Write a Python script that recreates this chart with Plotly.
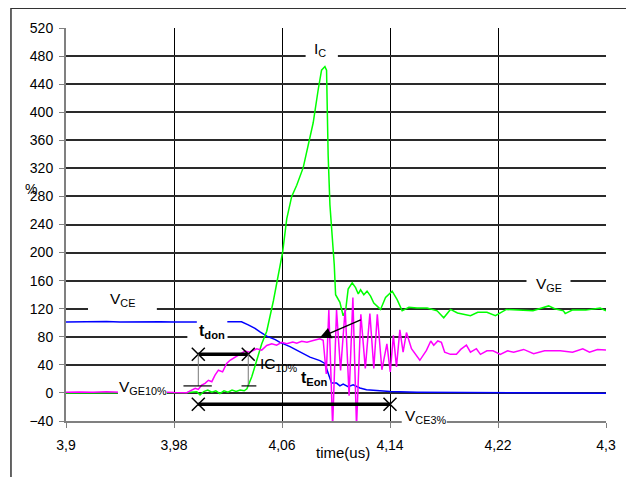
import plotly.graph_objects as go

# ---------------- data ----------------
t_vce = [3.900, 3.910, 3.920, 3.930, 3.940, 3.950, 3.960, 3.970, 3.980, 3.990, 4.000, 4.010,
         4.020, 4.030, 4.035, 4.040, 4.0437, 4.0487, 4.055, 4.0585, 4.0659, 4.0733, 4.0807,
         4.0881, 4.0918, 4.0942, 4.0967, 4.1004, 4.1029, 4.1053, 4.109, 4.1127, 4.1177,
         4.1226, 4.130, 4.140, 4.160, 4.190, 4.220, 4.250, 4.280, 4.300]
vce = [101, 101.5, 101, 101.8, 101, 101.5, 101.2, 101.6, 101, 101.5, 101, 101.4,
       101, 101.5, 97, 92, 87, 81, 76, 72, 66, 58, 51,
       46, 42, 28, 14, 14, 10, 12.5, 9, 11.5, 7,
       4.5, 3.5, 2, 1, 0.5, 0, -0.5, 0, -0.3]

t_ic = [3.900, 3.930, 3.960, 3.990, 3.9969, 3.9993, 4.002, 4.005, 4.008, 4.011, 4.014, 4.017,
        4.020, 4.023, 4.026, 4.029, 4.032, 4.034, 4.0376, 4.0413, 4.045, 4.0487, 4.0536,
        4.0605, 4.0635, 4.0672, 4.0709, 4.0757, 4.0794, 4.0831, 4.0868, 4.0893, 4.0918,
        4.0930, 4.0935, 4.0942, 4.0955, 4.0975, 4.0987, 4.0997, 4.1029, 4.1053, 4.1071,
        4.1090, 4.1120, 4.1145, 4.1165, 4.1182, 4.1206, 4.1230, 4.1256, 4.1280, 4.1300,
        4.1330, 4.1367, 4.1416, 4.1453, 4.1490, 4.1540, 4.1600, 4.1675, 4.1749, 4.1798,
        4.1848, 4.1900, 4.1941, 4.1996, 4.2050, 4.2118, 4.2181, 4.2262, 4.2350, 4.2459,
        4.2575, 4.2620, 4.2685, 4.2698, 4.2750, 4.2850, 4.2957, 4.3000]
ic = [0, 0.5, 0, 0.5, 1.8, -3, 2, 4, 1, 3, -1, 3,
      1, 4, 2, 4, 3, 6, 23, 46, 70, 88, 131,
      201, 248, 280, 296, 321, 352, 385, 432, 460, 465,
      460, 408, 338, 268, 216, 183, 140, 129, 110, 117,
      148, 157, 150, 141, 147, 140, 145, 138, 128, 124,
      119, 136, 145, 133, 117, 122, 121, 121, 117, 107,
      119, 114, 112, 110, 115, 115, 110, 119, 118, 117,
      124, 120, 117, 113, 118, 118, 121, 117]

t_vge = [3.900, 3.910, 3.920, 3.930, 3.940, 3.950, 3.960, 3.970, 3.980, 3.9895, 3.9957, 3.998,
         4.0005, 4.003, 4.0055, 4.008, 4.0104, 4.0129, 4.016, 4.019, 4.0215, 4.0252, 4.0289,
         4.0326, 4.036, 4.0413, 4.045, 4.0487, 4.0524, 4.056, 4.0598, 4.0635, 4.068, 4.0709,
         4.0746, 4.0785, 4.0831, 4.088, 4.0905, 4.0928, 4.0947, 4.0975, 4.1004, 4.1034,
         4.1068, 4.1097, 4.1125, 4.1152, 4.1184, 4.1217, 4.1251, 4.1280, 4.1306, 4.1340,
         4.1377, 4.1402, 4.1425, 4.1448, 4.1473, 4.1497, 4.1522, 4.1559, 4.1621, 4.1670,
         4.1702, 4.1724, 4.1754, 4.1781, 4.1805, 4.1848, 4.1892, 4.1924, 4.1966, 4.1996,
         4.2040, 4.2070, 4.2118, 4.2163, 4.2217, 4.2271, 4.2316, 4.2390, 4.2464, 4.2545,
         4.2661, 4.2752, 4.2828, 4.2878, 4.2937, 4.3000]
vge = [1, 1.5, 0.8, 1.6, 1, 1.4, 0.8, 1.5, 0.5, 0.4, 6.6, 5,
       11, 13.6, 18, 16, 25.4, 32.4, 30, 41.9, 46.5, 51.2, 56,
       59.6, 58, 63, 61, 67.7, 70, 68, 72, 70, 72.5, 71,
       73.5, 72.3, 74.6, 77, 75, 27, 118, -48, 118, 32,
       120, -4, 136, -48, 112, 35, 113, 35, 112, 33,
       70, 30, 82, 37, 90, 58, 86, 63, 46.5, 60.6,
       74, 68, 74, 72, 58, 55, 55, 62, 68, 58,
       63, 55, 60, 60, 55, 60, 58, 62, 56, 60,
       60, 58, 63, 58, 62, 61]

x_ticks = [3.9, 3.98, 4.06, 4.14, 4.22, 4.3]
x_tick_labels = ["3,9", "3,98", "4,06", "4,14", "4,22", "4,3"]
y_ticks = list(range(-40, 521, 40))

# timing construction (from the picture)
t_don_start = 3.998
t_don_end = 4.035
t_eon_end = 4.14
level_don = 55
level_eon = -16
ten_pct = 10
vge10_tick = [3.987, 4.008]
ic10_tick = [4.030, 4.041]
arrow_tip = (4.0881, 79)
arrow_tail = (4.1194, 105)

FONT = "Arial, 'Liberation Sans', sans-serif"

fig = go.Figure()
fig.add_trace(go.Scatter(x=t_vce, y=vce, mode="lines", line=dict(color="#0000FF", width=1.5), hoverinfo="skip"))
fig.add_trace(go.Scatter(x=t_ic, y=ic, mode="lines", line=dict(color="#00FF00", width=1.5), hoverinfo="skip"))
fig.add_trace(go.Scatter(x=t_vge, y=vge, mode="lines", line=dict(color="#FF00FF", width=1.5), hoverinfo="skip"))
fig.add_trace(go.Scatter(
    x=[t_don_start, t_don_end, t_don_start, t_eon_end],
    y=[level_don, level_don, level_eon, level_eon],
    mode="markers",
    marker=dict(symbol="x-thin", size=13, line=dict(width=1.5, color="black"), color="black"),
    hoverinfo="skip"))

shapes = []
# white label boxes covering grid lines / traces
def wbox(x0, x1, y0, y1, yref="y"):
    shapes.append(dict(type="rect", xref="x", yref=yref, x0=x0, x1=x1, y0=y0, y1=y1,
                       fillcolor="white", line=dict(width=0), layer="above"))

wbox(4.0775, 4.1014, 473, 487)      # I_C
wbox(4.2411, 4.2737, 152, 168)      # V_GE
wbox(3.9163, 3.9673, 113, 127)      # V_CE
wbox(3.9899, 4.0195, 76, 84)        # t_don grid gap
wbox(3.9969, 4.0195, 76, 106)       # t_don text box
wbox(3.9385, 3.9747, -6, 8)         # V_GE10%
wbox(4.1487, 4.1820, -0.02, 0.02, yref="paper")  # V_CE3%

# construction lines
shapes.append(dict(type="line", xref="x", yref="y", x0=t_don_start, x1=t_don_end, y0=level_don, y1=level_don,
                   line=dict(color="black", width=3.5), layer="above"))
shapes.append(dict(type="line", xref="x", yref="y", x0=t_don_start, x1=t_eon_end, y0=level_eon, y1=level_eon,
                   line=dict(color="black", width=3.5), layer="above"))
for tx in (t_don_start, t_don_end):
    shapes.append(dict(type="line", xref="x", yref="y", x0=tx, x1=tx, y0=level_don, y1=ten_pct,
                       line=dict(color="#777777", width=1), layer="above"))
for seg in (vge10_tick, ic10_tick):
    shapes.append(dict(type="line", xref="x", yref="y", x0=seg[0], x1=seg[1], y0=ten_pct, y1=ten_pct,
                       line=dict(color="black", width=1.2), layer="above"))

# outer frame
shapes.append(dict(type="rect", xref="paper", yref="paper", x0=-0.1019, x1=1.0457, y0=-0.16, y1=1.0504,
                   line=dict(color="#333333", width=1.5), fillcolor="rgba(0,0,0,0)", layer="above"))

def lab(text, x, y, size=15.5, bold=False, **kw):
    t = f"<b>{text}</b>" if bold else text
    return dict(text=t, x=x, y=y, xref="x", yref="y", showarrow=False,
                font=dict(family=FONT, size=size, color="black"), **kw)

annotations = [
    lab("I<sub>C</sub>", 4.0881, 489),
    lab("V<sub>GE</sub>", 4.2575, 154),
    lab("V<sub>CE</sub>", 3.9416, 133),
    lab("t<sub>don</sub>", 4.0083, 87, size=16, bold=True),
    lab("V<sub>GE10%</sub>", 3.9574, 8),
    lab("IC<sub>10%</sub>", 4.0575, 41),
    lab("t<sub>Eon</sub>", 4.0843, 20, size=16, bold=True),
    lab("V<sub>CE3%</sub>", 4.1665, -34),
    dict(text="", x=arrow_tip[0], y=arrow_tip[1], ax=arrow_tail[0], ay=arrow_tail[1],
         xref="x", yref="y", axref="x", ayref="y", showarrow=True,
         arrowhead=2, arrowsize=1.6, arrowwidth=1.4, arrowcolor="black"),
    dict(text="time(us)", x=(343 - 66) / 540, y=(421 - 453) / 397, xref="paper", yref="paper",
         xanchor="center", yanchor="middle",
         showarrow=False, font=dict(family=FONT, size=15, color="black")),
    dict(text="%", x=(31 - 66) / 540, y=(421 - 187) / 397, xref="paper", yref="paper",
         xanchor="center", yanchor="middle",
         showarrow=False, font=dict(family=FONT, size=14, color="black")),
]

axis_common = dict(showgrid=True, showline=True,
                   linecolor="#808080", linewidth=2, ticks="outside", ticklen=5,
                   tickcolor="#808080", tickfont=dict(family=FONT, size=14, color="black"),
                   zeroline=False)

# page body has an 8px margin: figure sized/margined so the plot area lands where the reference has it
fig.update_layout(
    width=626, height=469,
    margin=dict(l=58, r=28, t=16, b=56),
    paper_bgcolor="white", plot_bgcolor="white",
    showlegend=False,
    shapes=shapes, annotations=annotations,
    xaxis=dict(range=[3.9, 4.3], tickvals=x_ticks, ticktext=x_tick_labels,
               ticklabelstandoff=5, gridcolor="#000000", gridwidth=1, **axis_common),
    yaxis=dict(range=[-40, 520], tickvals=y_ticks, ticklabelstandoff=3,
               gridcolor="#2a2a2a", gridwidth=2, **axis_common),
)

fig.write_html("out.html")
